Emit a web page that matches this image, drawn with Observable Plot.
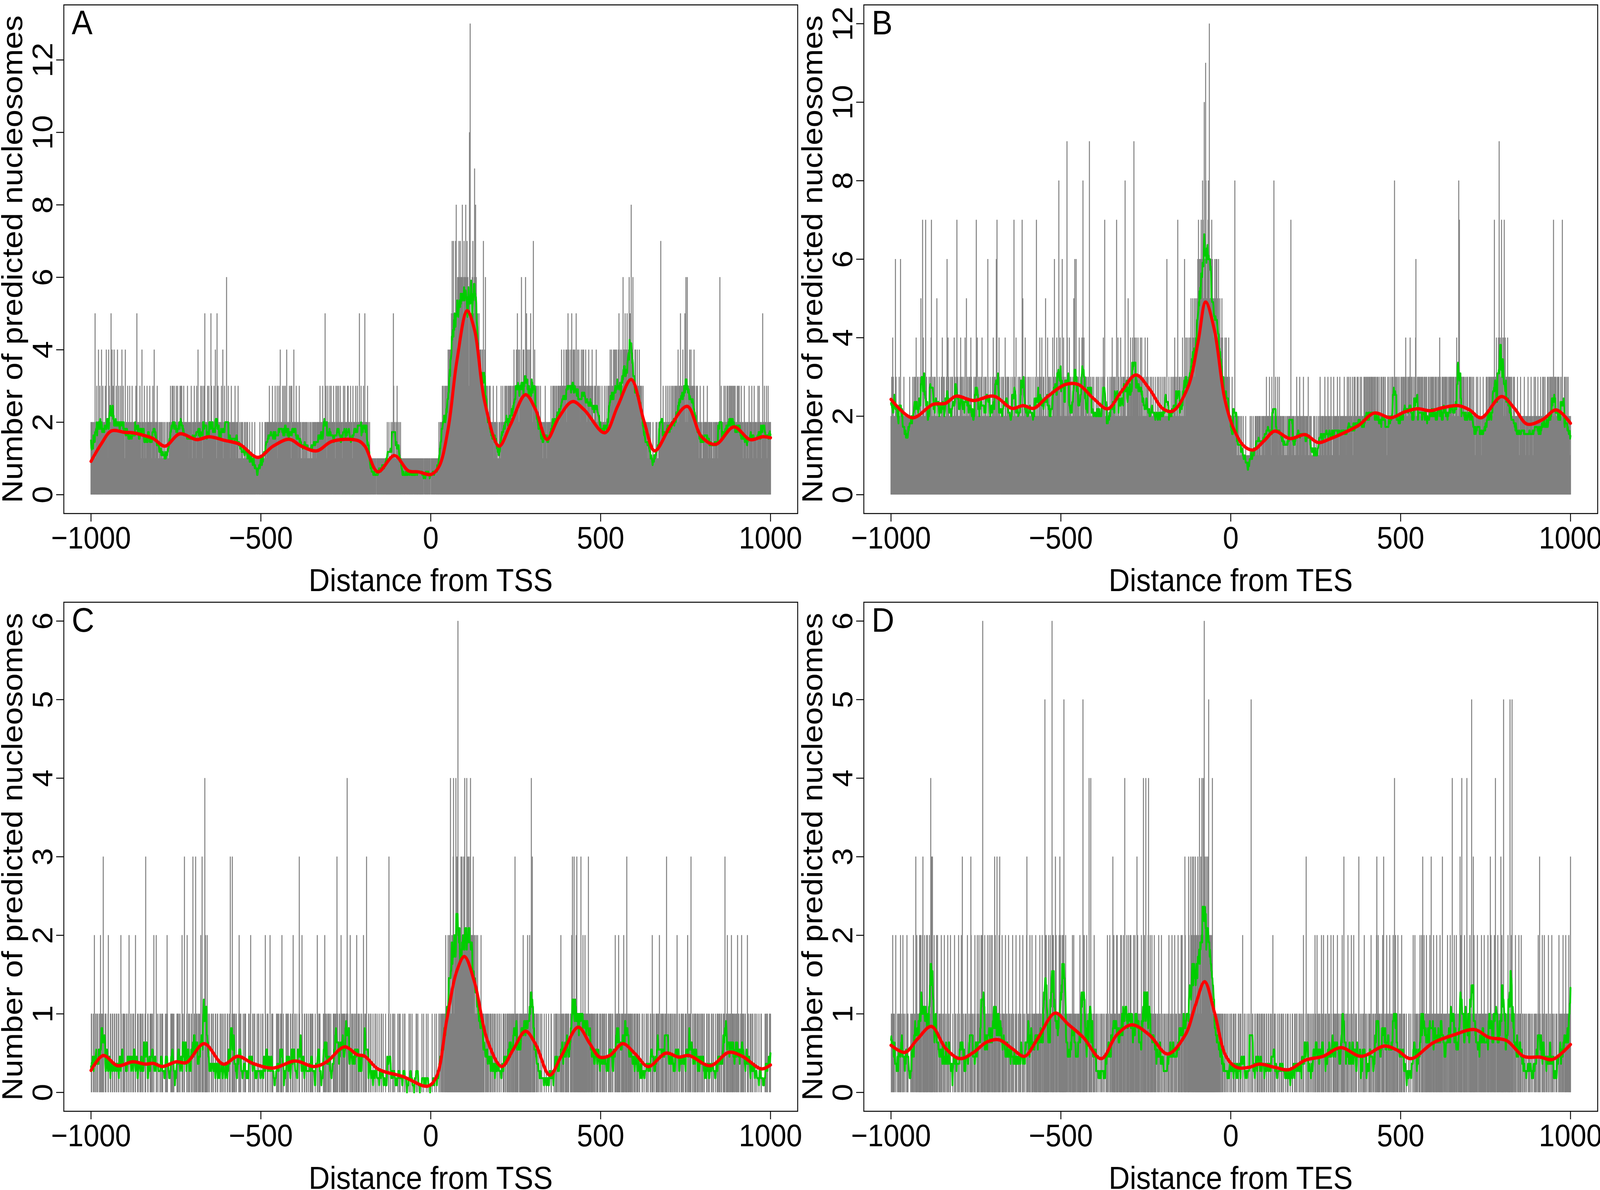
<!DOCTYPE html>
<html><head><meta charset="utf-8">
<script src="https://cdn.jsdelivr.net/npm/d3@7"></script>
<script src="https://cdn.jsdelivr.net/npm/@observablehq/plot@0.6"></script>
<style>
html,body{margin:0;padding:0;background:#fff;overflow:hidden;}
#wrap{position:absolute;left:0;top:0;width:4500px;height:3046px;overflow:hidden;background:#fff;transform-origin:0 0;}
.panel{position:absolute;}
.panel svg{overflow:visible;}
</style></head><body><div id="wrap"></div>
<script>
const positions = d3.range(-1000, 1001);
const xTicks = [-1000, -500, 0, 500, 1000];
const yTicksAB = [0, 2, 4, 6, 8, 10, 12];
const yTicksCD = [0, 1, 2, 3, 4, 5, 6];

// counts per bp (one base-36 character per position), rows of 100 bp
const countsA = [
"2121120121 1250121312 2141213212 1421231202 2132142121 1242312125 2142131242 1221312142 2131221312 2412132121",
"1412212131 2121302122 1312121221 2131250212 1221312112 4121211321 2102131212 1213121201 2131224121 1212031211",
"1211201211 2101211021 1112012111 2121312123 1321232121 2312131212 2232131322 1213121221 2121312112 1212131211",
"2121312121 1312141212 1213121311 2131251212 1213121312 1215131212 2131214121 1521312121 2121312141 1213121216",
"2121312121 1213121211 2121312112 1213111211 1211211201 1121211021 1211101211 1011211011 1021101010 1101011201",
"1011211101 1121211212 1212131212 2121312121 2131212131 1213121412 2121312131 2131214121 2121312131 1312121412",
"2121312121 1213121211 1211212112 1121211211 1211121121 1121211212 1211212121 2121312121 2131212125 2131121312",
"1213121312 2021312121 1312131213 2121302121 1223121312 1212131312 2121302121 1312221213 2121312121 5212131212",
"2131215121 2121312101 2110110101 1011010110 0101101101 1011011101 1110111011 1121111211 1112111211 5311211121",
"1312101211 1201011010 1011010101 0110101101 1010110101 0101101011 0110101101 1011010110 0101011010 1101010110",
"0101101011 0110101101 1011210121 2121322312 2312322312 3423432434 4527354735 5437485346 5647365746 5648465476",
"4658465746 4523a4d354 5464755469 4684645354 4353424343 3242372324 2622312322 2131232121 2121311212 1211312110",
"1201211312 2131212132 2312321231 3213231322 2323142323 3242353242 2342323623 3242432326 2352423242 3242523232",
"2372324232 2321312232 1213212121 1212121312 2112121212 2121312213 2132312132 3212323132 2323142323 3242323242",
"2423532423 3242352324 2432423252 3242324232 2324232423 4232324232 2323242322 3223242322 2232322422 2322321232",
"2121312122 2312213121 2321323242 3242323242 2432432432 3243523242 3242336342 4253424352 3434653524 8243462323",
"3424323242 3232423232 2321232121 2121212112 1211211201 1101211011 1112112111 1212121712 2121312121 2132121312",
"2131221312 2312321231 3213231242 2323152323 3242323252 2622362232 3242324232 2323242312 2131232121 1213121211",
"1213121212 2121312112 1212112121 1121211212 1212112121 2612131212 1213121312 2131231213 2312321312 3213213121",
"2131232131 2121312121 1213121211 2121211312 1212131211 2131212121 1213121312 2121121512 2131212131 1213121212",
"2"];

const countsB = [
"2232142312 2126232212 2122322162 2122212132 1212202121 2122132122 2212322132 2322412232 3212232252 2227242312",
"2272132212 1232223247 2213222322 3222153222 2232212232 2421322321 2223262142 3202232223 2312224232 2232722312",
"1223242232 3222312242 2152232213 2232142312 2122322132 2722412232 1232223242 2213222322 3222163222 2232212232",
"2421322321 6272232142 3202232223 2312224232 2232322312 1223222132 2272312242 2122322132 3212237252 2232142312",
"2213222322 2232212232 2122322172 1232223242 2322412232 3222153222 2421322321 2312224232 2622322342 3232832242",
"2232622342 3222312294 2232142312 3212232252 2622362232 2322412232 3243282342 2232322312 2312922232 2213222322",
"2122322132 2232212232 1223242237 2122212132 2212322132 2421322321 3222712242 2312224232 2232322318 3212232252",
"3232242332 2423392342 3242332432 2332422342 3222312242 2232142312 2213222322 2232212232 2122322132 1223222132",
"2213222322 2262212232 2122322132 2232142312 2322712232 3222312242 2232622342 3242332432 3425332453 4335423534",
"4536475364 5647564875 54a465b854 5647856c45 5464756454 4546354636 4354624353 3243524233 2324132423 2312413221",
"2121312121 1282121211 1211211121 1121101211 1011210110 1101011201 1210112101 1121211211 2112121211 1211212121",
"1212131212 2121312121 1312121812 2131212131 1213121212 1121211211 1211121121 1212121712 1121211211 1211312121",
"1213121211 2121312121 1212112131 1121211211 1011211210 1121101211 1213121121 2121121312 1211213121 2112131211",
"1213121212 2121312121 1312121212 2121312121 1213121312 2131212131 1213213121 2131231212 2312132121 2131232131",
"2312321312 3213231231 2321323121 3213212312 2131231213 2312132121 1231213212 2312132312 2381232132 1231213212",
"2312321312 3213241321 2321323142 1323121312 2312461213 2132312321 3213231213 2321312312 1231321231 3213231321",
"2313213212 3213241321 2132312321 3231321312 2321323132 3213231321 2321342312 2837213212 3213231321 2312132321",
"2132312321 2312132121 1213121312 2121312112 1213121212 2131231213 2312321312 3213237231 3242313241 9324323742",
"3241273142 2313241323 2312321312 2131232121 2121312121 1213121212 2121312112 1212131211 2121312121 1213121312",
"2121312121 2131212131 2312132121 2131231213 2312321312 7213231321 2321323121 2312137212 2131231213 1213121211",
"2"];

const countsC = [
"0110000100 2000110001 1000011020 0110013100 0011100000 1200000110 0001100001 1000011000 0110000021 0000110100",
"1000011000 0120000110 0001110000 1200000101 0000110010 0011000001 1300000110 0000101100 1100020000 0021000100",
"0001100010 1100000001 0010210000 0000011010 1100100000 0001101100 0110000020 1000130000 0012000110 1000011000",
"3000110030 0110001100 1002000310 1100041201 1021000110 0000110001 1000001100 0011000000 1100010001 0000110000",
"0110000100 3000013100 1001100010 0000012100 1100000010 0011010000 0000110001 2000001100 0110000001 0001100000",
"1000011000 0002100001 1100000200 0010110000 0000001100 1001000011 0120001000 0000110010 1100000110 0001120000",
"1100001000 0013100000 0210000011 0000110000 1000011001 0011000000 1000002100 0110100000 0000110021 1001000110",
"0110001000 0001101100 1100311000 0110002110 1001101100 0110411000 0012000110 1000110001 0120001100 1000011000",
"0120001100 1300000110 0001100000 1000001100 0010000010 0000110000 1000000100 0000001300 0010000010 1000100000",
"0001000100 1000000010 0001100000 0000001000 1000010000 0000000110 0010000000 0000100001 0000000100 0010000000",
"0000100000 0010000100 0000110001 1001011100 1101210111 1211121141 1121213411 2121421312 6121221213 2131212312",
"4121214213 2131213412 1212131211 2111211121 1101111021 1011011100 0110100110 1000110010 0011000100 1000011000",
"0110000100 0001101000 1100010110 0111001100 1101100130 1011011100 0110111010 1121011011 1101120110 1210114003",
"1101101100 0110100010 0001000100 0000100000 1000000100 0000110000 0001000110 0110001000 1002100110 0110001101",
"1100111000 0111021300 1130110120 3011101110 1131011021 0111201101 1100311010 0110110100 1001100011 0110000110",
"1000110010 0110001100 0001101001 1100011000 0012100110 1102101100 0110110120 1001101310 0110100110 1001100010",
"0110001100 1000110000 0011000010 0000110001 1000001100 0120100010 0001101100 1102000110 0110110001 1001311000",
"1100010110 0011000100 1000121000 0110000110 1001100001 0110002100 1001103000 0110001101 1000110010 0011000110",
"1000110000 0011000100 1000001100 0110000010 0001100100 1100011000 0110113000 1102100110 0110020110 1001100100",
"1102001100 0011020010 1100011000 0020110000 1001000110 0000110000 1000001000 0011000000 0000100100 1100000110",
"1"];

const countsD = [
"0110021010 1000200001 0010100120 1000120100 0100001201 1000000010 0101002100 1003012010 0110212021 1002310112",
"1010121201 1002110421 3130100211 1001201200 0100110020 1000100210 0010001200 1000120000 0010000210 1000010002",
"0100001200 3001000010 1000120001 0001032100 1000100210 0001201002 1000120120 6010012100 1001201102 0100210021",
"1001130210 0130010120 3010001201 1100100210 0100012001 1000100120 0100001020 1000010012 0010000120 1000100002",
"3010010012 1000121010 0101012011 1001011021 1010021001 1105121211 1010201002 1010612121 0100312101 1001020312",
"1101211225 1011201010 1001100101 1001201120 1010100110 0101012011 1001152012 1001012010 0014010041 0100010120",
"0100010100 0010000100 1000100010 0001001200 1000210010 0103012011 1001202110 0101012021 1001210041 1001211012",
"1001212101 1010210021 0101302101 1001100210 1004102101 4100101240 1002101021 0100120101 1000100120 0100012000",
"1000100100 0100010021 0001001200 1000120010 0100021101 1001201210 0101032101 1001113210 1031201312 1310213121",
"1213121141 2131141214 2161312132 2131251212 1211214111 1111011101 1011010110 0110010100 0100100010 0010000100",
"0110000100 1000110000 0011000100 1000021000 0110000010 0001100001 5000110000 0110000110 1000110001 0011000100",
"1000011000 0110000101 0001200010 1100000100 0011000010 1000110000 0100001001 0000010000 0110000010 1000110000",
"0110001000 1000210000 0130001100 1000100010 0011000120 1000210010 0110001200 1002100010 0100020100 1100021000",
"0120110010 1001201100 0100011021 1103100100 0110021000 1000120010 0021000110 1000001300 0100010001 1002100100",
"0100001100 1002100010 0100011002 3001201100 1000110210 3010001102 1001100120 0100110021 1040021001 0120001100",
"1002100010 0110000100 0000110000 1000001200 0120010010 1000101200 0120131002 1001102101 0101012010 3100101201",
"1001102101 0101012010 1103100101 0010110021 1001102101 0141001120 1001201001 0101031201 4100101120 1100141001",
"1001211015 1010312011 0101012001 1001101021 0101012010 1100101201 1001302101 0101012014 1001102101 0101031021",
"1105101011 0101012011 1150012051 0100110021 1000100120 0110020001 1000100100 0100001010 1000100010 0001001100",
"1000120013 0100001200 1002100010 0100021000 1000120010 0010000100 1000012001 0100110020 1001102101 0101021101",
"3"];

// smoothed (red) curves
const redAx = [-1000,-970,-940,-900,-877,-850,-817,-782,-739,-689,-652,-607,-562,-509,-464,-416,-381,-336,-291,-216,-194,-156,-107,-66,-36,1,24,51,77,107,129,159,201,234,279,309,342,377,417,452,512,550,590,628,659,707,755,797,839,892,940,977,1000];
const redAy = [0.92,1.40,1.76,1.72,1.71,1.65,1.55,1.34,1.68,1.52,1.60,1.50,1.39,1.03,1.34,1.53,1.34,1.21,1.47,1.50,1.34,0.63,1.08,0.66,0.63,0.56,0.77,1.81,3.70,5.08,4.54,2.55,1.34,1.92,2.76,2.34,1.53,2.13,2.57,2.34,1.71,2.44,3.18,2.02,1.21,1.92,2.44,1.60,1.39,1.87,1.52,1.60,1.57];
const redBx = [-1000,-937,-877,-839,-809,-757,-697,-644,-611,-580,-539,-486,-449,-404,-362,-321,-279,-239,-201,-171,-126,-96,-74,-48,-18,9,39,66,99,129,174,219,257,294,339,377,422,471,512,550,587,625,670,703,737,797,835,872,917,958,1000];
const redBy = [2.43,1.96,2.30,2.33,2.51,2.40,2.51,2.20,2.27,2.20,2.50,2.81,2.81,2.45,2.19,2.64,3.05,2.69,2.20,2.13,2.74,3.90,4.91,4.19,2.45,1.67,1.24,1.14,1.38,1.62,1.43,1.53,1.33,1.43,1.60,1.77,2.08,1.96,2.11,2.19,2.14,2.22,2.27,2.16,1.96,2.50,2.20,1.80,1.91,2.16,1.82];
const redCx = [-1000,-964,-922,-877,-839,-817,-790,-749,-719,-667,-611,-568,-524,-464,-399,-344,-306,-254,-216,-194,-156,-81,-9,17,47,77,99,129,167,209,242,279,309,350,384,434,467,497,527,565,602,640,692,730,760,823,877,917,973,1000];
const redCy = [0.28,0.47,0.34,0.39,0.36,0.37,0.33,0.39,0.38,0.62,0.36,0.46,0.37,0.31,0.40,0.33,0.39,0.58,0.48,0.46,0.30,0.20,0.08,0.20,0.92,1.55,1.73,1.40,0.66,0.33,0.54,0.78,0.61,0.22,0.46,0.83,0.63,0.45,0.47,0.62,0.49,0.33,0.50,0.45,0.47,0.34,0.51,0.46,0.30,0.35];
const redDx = [-1000,-959,-922,-881,-839,-797,-757,-719,-682,-644,-607,-569,-517,-479,-434,-381,-336,-291,-239,-186,-134,-104,-77,-48,-14,17,54,84,129,171,219,272,324,384,452,489,530,595,655,718,760,812,862,910,947,1000];
const redDy = [0.60,0.51,0.68,0.84,0.56,0.43,0.51,0.64,0.67,0.56,0.46,0.68,1.01,0.87,0.70,0.43,0.73,0.86,0.73,0.49,0.73,1.11,1.41,1.02,0.46,0.32,0.32,0.36,0.32,0.29,0.41,0.46,0.57,0.46,0.59,0.54,0.43,0.63,0.73,0.80,0.70,0.66,0.46,0.45,0.42,0.61];

const yTitle = "Number of predicted nucleosomes";
const FONT = "'Liberation Sans', Arial, Helvetica, sans-serif";
const fmt = d => d < 0 ? "\u2212" + Math.abs(d) : String(d);

function makePanel({counts, redX, redY, yTicks, letter, xTitle, top}) {
  const vals = counts.join("").replace(/\s+/g, "").split("").map(c => parseInt(c, 36));
  const data = vals.map((v, i) => ({x: positions[i], v}));
  const red = redX.map((x, i) => ({x, y: redY[i]}));
  const ymax = d3.max(vals);
  return Plot.plot({
    width: 2250, height: 1523,
    marginLeft: 179, marginRight: 7,
    marginTop: top ? 12 : 18, marginBottom: top ? 209 : 202,
    style: {fontFamily: FONT, background: "transparent", color: "black", overflow: "visible"},
    x: {domain: [-1080, 1080]},
    y: {domain: [-0.04 * ymax, 1.04 * ymax]},
    marks: [
      Plot.ruleX(data, {x: "x", y1: 0, y2: "v", stroke: "#808080", strokeWidth: 2.8}),
      Plot.lineY(data, Plot.windowY({k: 11, anchor: "middle"}, {x: "x", y: "v", stroke: "#00cd00", strokeWidth: 5})),
      Plot.line(red, {x: "x", y: "y", stroke: "#ff0000", strokeWidth: 8.5, curve: "catmull-rom"}),
      Plot.frame({stroke: "black", strokeWidth: 2.5}),
      Plot.axisX({ticks: xTicks, tickSize: 21, tickPadding: 12, tickFormat: fmt, fontSize: 80, label: null, strokeWidth: 2.5}),
      Plot.axisY({ticks: yTicks, tickSize: 21, tickFormat: () => "", label: null, strokeWidth: 2.5}),
      Plot.text(yTicks, {y: d => d, text: d => String(d), frameAnchor: "left", dx: -32, rotate: -90, textAnchor: "middle", lineAnchor: "bottom", fontSize: 80, fill: "black"}),
      Plot.text([yTitle], {text: d => d, frameAnchor: "left", dx: -117, rotate: -90, textAnchor: "middle", lineAnchor: "bottom", fontSize: 82, fill: "black"}),
      Plot.text([xTitle], {text: d => d, frameAnchor: "bottom", dy: 198, textAnchor: "middle", lineAnchor: "bottom", fontSize: 82, fill: "black"}),
      Plot.text([letter], {text: d => d, frameAnchor: "top-left", dx: 22, dy: 75, textAnchor: "start", lineAnchor: "bottom", fontSize: 88, fill: "black"})
    ]
  });
}

const wrap = document.getElementById("wrap");
const specs = [
  {counts: countsA, redX: redAx, redY: redAy, yTicks: yTicksAB, letter: "A", xTitle: "Distance from TSS", top: true, left: 0, topPx: 0},
  {counts: countsB, redX: redBx, redY: redBy, yTicks: yTicksAB, letter: "B", xTitle: "Distance from TES", top: true, left: 2250, topPx: 0},
  {counts: countsC, redX: redCx, redY: redCy, yTicks: yTicksCD, letter: "C", xTitle: "Distance from TSS", top: false, left: 0, topPx: 1523},
  {counts: countsD, redX: redDx, redY: redDy, yTicks: yTicksCD, letter: "D", xTitle: "Distance from TES", top: false, left: 2250, topPx: 1523}
];
for (const s of specs) {
  const div = document.createElement("div");
  div.className = "panel";
  div.style.left = s.left + "px";
  div.style.top = s.topPx + "px";
  div.appendChild(makePanel(s));
  wrap.appendChild(div);
}
// fit the 4500x3046 figure into the viewport the browser actually provides
const sx = Math.min(1, (window.innerWidth || 4500) / 4500);
const sy = Math.min(1, (window.innerHeight || 3046) / 3046);
if (sx < 1 || sy < 1) wrap.style.transform = `scale(${sx}, ${sy})`;
</script>
</body></html>
